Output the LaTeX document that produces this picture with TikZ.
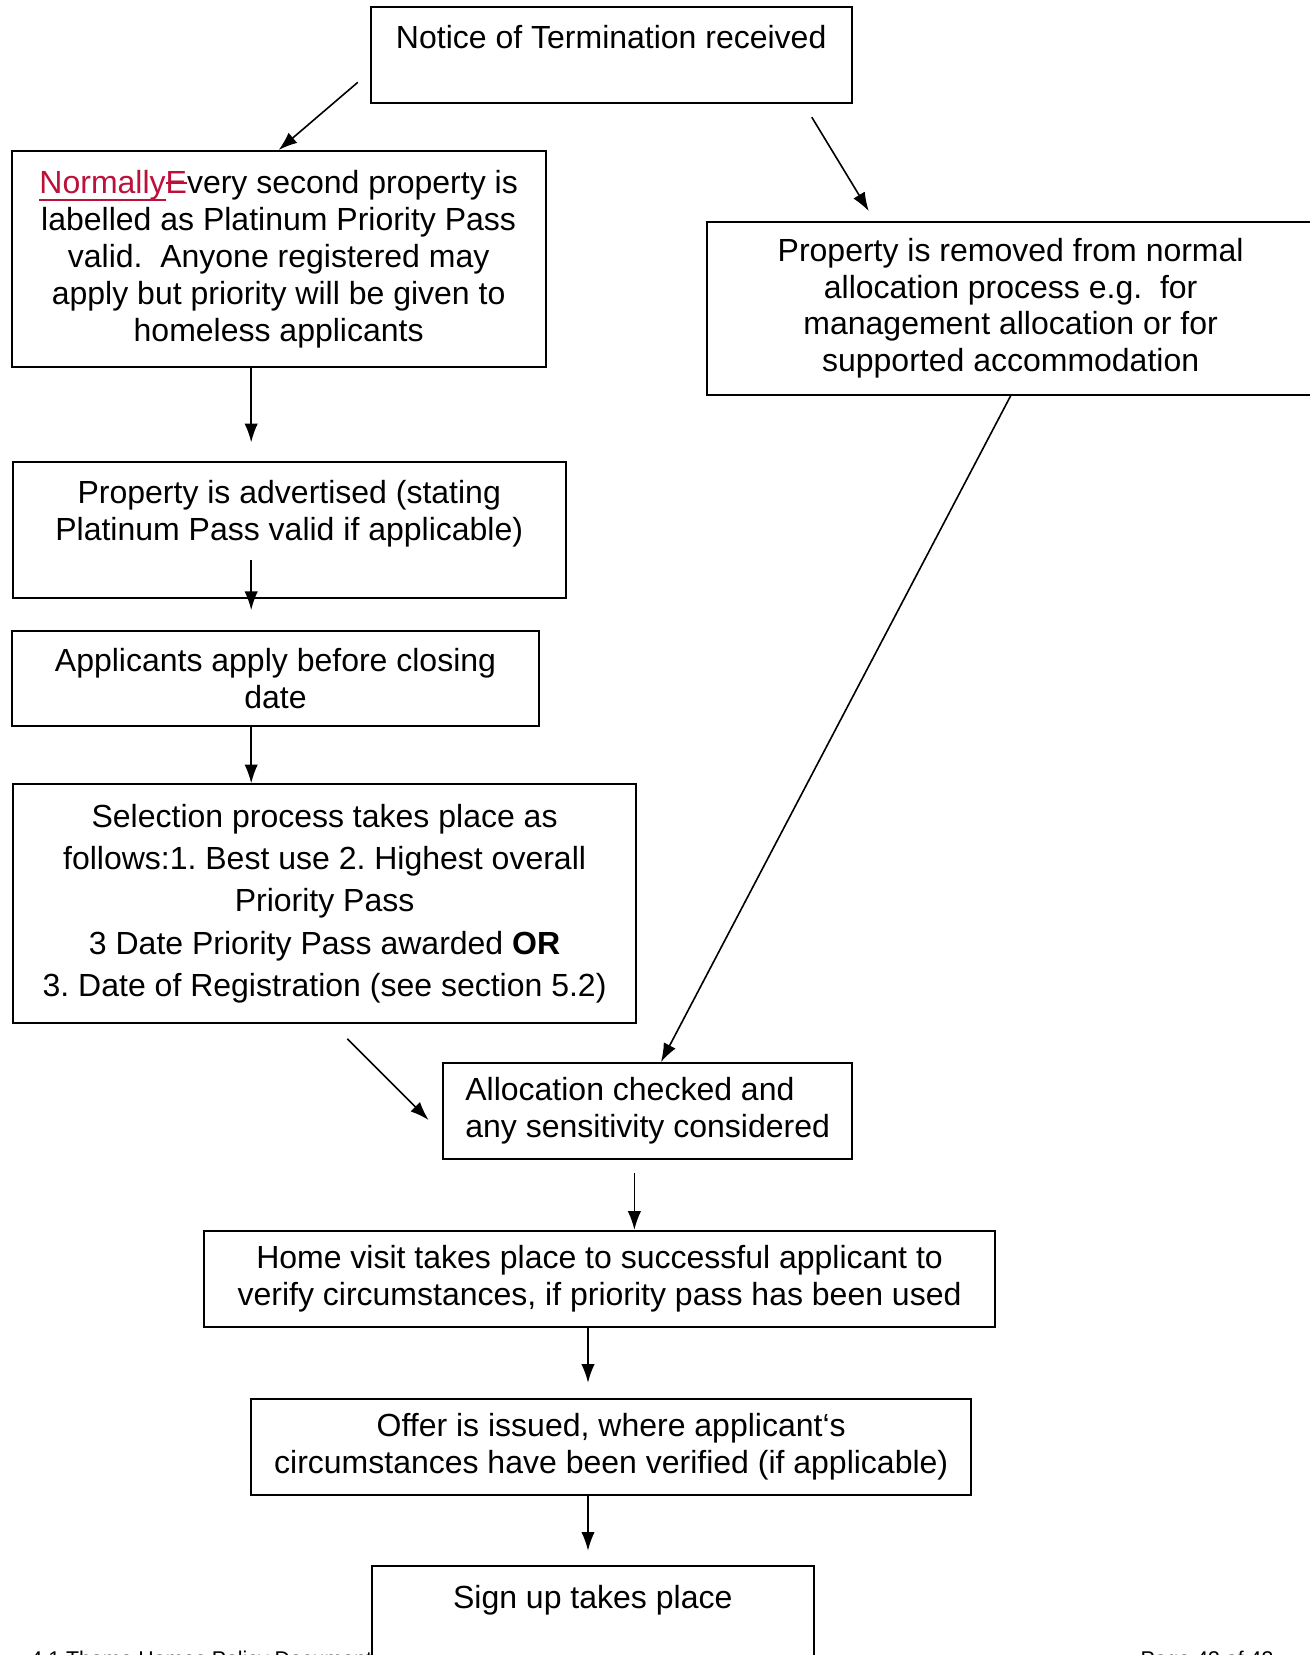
\documentclass[tikz,border=0pt]{standalone}
\usepackage{fontspec}
\setmainfont{Liberation Sans}
\usepackage{tikz}
\usetikzlibrary{arrows.meta,positioning,calc}
\usepackage{xcolor}
\definecolor{insred}{RGB}{187,17,58}
\frenchspacing

% tracked changes: inserted and deleted text
\newsavebox{\markbox}
\newcommand{\insertedtext}[1]{\sbox{\markbox}{#1}\rlap{\rule[-2.6pt]{\wd\markbox}{0.8pt}}#1}
\newcommand{\deletedtext}[1]{\sbox{\markbox}{#1}\rlap{\rule[3.6pt]{\wd\markbox}{0.8pt}}#1}

\begin{document}
\begin{tikzpicture}[
    x=0.375pt, y=-0.375pt,
    box/.style={rectangle, draw, line width=0.75pt, inner sep=0pt, align=center, font=\fontsize{12}{13.8}\selectfont},
    boxtext/.style={inner sep=0pt, align=center, anchor=north, font=\fontsize{12}{13.8}\selectfont},
    footer/.style={inner sep=0pt, anchor=base west, font=\fontsize{8}{9.6}\selectfont},
    arrow/.style={-{Latex[length=7pt,width=5pt]}, line width=0.6pt}
]
    \useasboundingbox (0,0) rectangle (1310,1655);

    % Start
    \node[box, minimum width=180.5pt, minimum height=36pt] (notice) at (611.2,55.4) {};
    \node[boxtext, below=6.9pt of notice.north] (noticetext) {Notice of Termination received};

    % Left branch
    \node[box, minimum width=200.3pt, minimum height=81.1pt] (prio) at (278.65,259.15)
        {\textcolor{insred}{\insertedtext{Normally}\deletedtext{E}}very second property is\\
         labelled as Platinum Priority Pass\\
         valid.\ \ Anyone registered may\\
         apply but priority will be given to\\
         homeless applicants};

    \node[box, minimum width=207.4pt, minimum height=51pt] (advert) at (289.25,530.45) {};
    \node[boxtext, below=7pt of advert.north] (adverttext) {Property is advertised (stating\\Platinum Pass valid if applicable)};

    \node[box, minimum width=197.9pt, minimum height=35.6pt] (apply) at (275.5,678.8)
        {Applicants apply before closing\\date};

    \node[box, minimum width=233.9pt, minimum height=89.5pt, font=\fontsize{12}{15.9}\selectfont] (select) at (324.6,903.6)
        {Selection process takes place as\\
         follows:1. Best use 2. Highest overall\\
         Priority Pass\\
         3 Date Priority Pass awarded \textbf{OR}\\
         3. Date of Registration (see section 5.2)};

    % Right branch
    \node[box, minimum width=227.5pt, minimum height=64.9pt] (removed) at (1010.65,308.25)
        {Property is removed from normal\\
         allocation process e.g.\ \ for\\
         management allocation or for\\
         supported accommodation};

    % Common path
    \node[box, align=left, minimum width=153.2pt, minimum height=36pt] (alloc) at (647.65,1111.05)
        {Allocation checked and\\any sensitivity considered};

    \node[box, minimum width=296.9pt, minimum height=36pt] (visit) at (599.55,1278.85)
        {Home visit takes place to successful applicant to\\verify circumstances, if priority pass has been used};

    \node[box, minimum width=270pt, minimum height=36pt] (offer) at (611.2,1446.75)
        {Offer is issued, where applicant‘s\\circumstances have been verified (if applicable)};

    \node[box, minimum width=165.9pt, minimum height=50.1pt] (signup) at (592.75,1633.25) {};
    \node[boxtext, below=7.1pt of signup.north] (signuptext) {Sign up takes place};

    % Page footer (cut by the page edge)
    \node[footer] (footleft) at (30,1666) {4.1 Thame Homes Policy Document};
    \node[footer] (footright) at (1140,1666) {Page 43 of 43};

    % Connectors
    \coordinate (colA) at (251.2,0);
    \coordinate (colC) at (634.4,0);
    \coordinate (colD) at (588,0);
    \coordinate (a1) at (357.8,82.3);
    \coordinate (a2s) at (811.8,117.2);
    \coordinate (a2e) at (868.8,211.1);
    \coordinate (a3) at (251.2,442.3);
    \coordinate (a4s) at (251.2,559.5);
    \coordinate (a4e) at (251.2,610.1);
    \coordinate (a7s) at (347.3,1038.7);
    \coordinate (a7e) at (428.6,1120);
    \coordinate (a8) at (634.4,1172.8);
    \coordinate (a9) at (588,1382.8);
    \coordinate (a10) at (588,1550.7);

    \draw[arrow] (a1) -- (prio.north);
    \draw[arrow] (a2s) -- (a2e);
    \draw[arrow] (prio.south -| colA) -- (a3);
    \draw[arrow] (a4s) -- (a4e);
    \draw[arrow] (apply.south -| colA) -- (select.north -| colA);
    \draw[arrow] (removed.south) -- ([xshift=5pt]alloc.north);
    \draw[arrow] (a7s) -- (a7e);
    \draw[arrow] (a8) -- (visit.north -| colC);
    \draw[arrow] (visit.south -| colD) -- (a9);
    \draw[arrow] (offer.south -| colD) -- (a10);

\end{tikzpicture}
\end{document}
